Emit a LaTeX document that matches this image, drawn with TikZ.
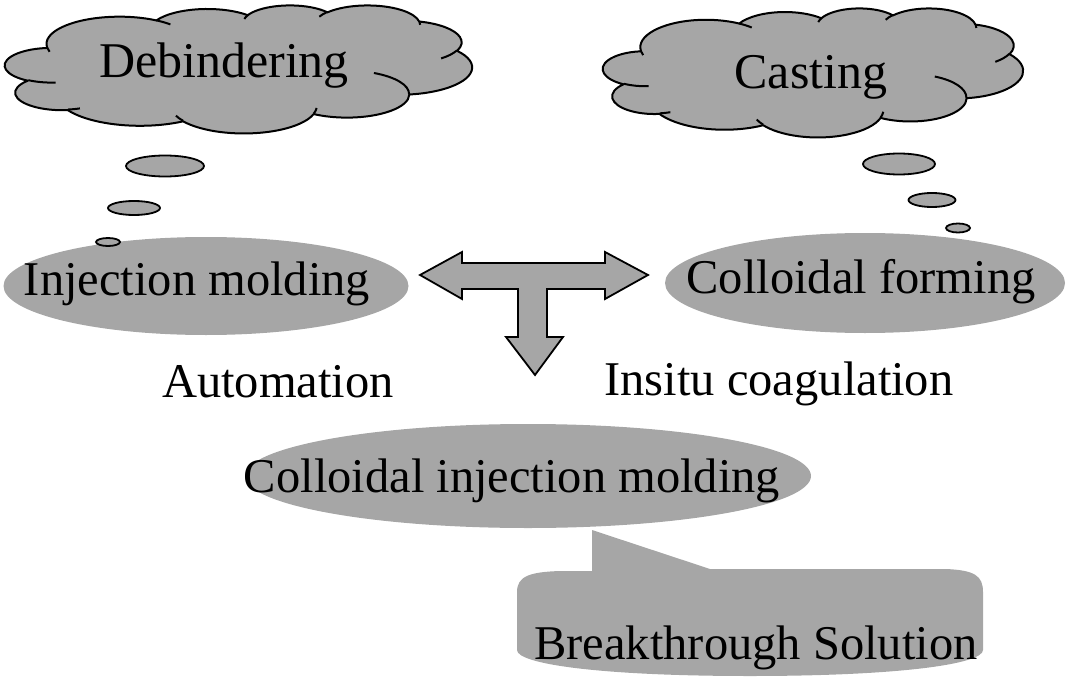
\documentclass[tikz,border=0pt]{standalone}
\usepackage{fontspec}
\setmainfont{Liberation Serif}
\usetikzlibrary{shapes.geometric}
\definecolor{fillgray}{RGB}{166,166,166}
% arc in OOXML style: wR hR stAng swAng (visual angles, degrees)
\newcommand\ooarc[4]{%
  \pgfmathsetmacro\ooA{atan2((#1)*sin(#3),(#2)*cos(#3))}%
  \pgfmathsetmacro\ooB{atan2((#1)*sin((#3)+(#4)),(#2)*cos((#3)+(#4)))}%
  \pgfmathsetmacro\ooD{mod(\ooB-\ooA+720,360)}%
  \pgfmathsetmacro\ooE{\ooA+\ooD}%
  \pgfpatharcaxes{\ooA}{\ooE}{\pgfpointxy{#1}{0}}{\pgfpointxy{0}{#2}}%
}
\newcommand\cloudoutline{%
  \pgfpathmoveto{\pgfpointxy{39.00}{143.70}}%
  \ooarc{67.53}{91.90}{-190.4875}{123.7805}%
  \ooarc{53.33}{72.67}{-144.1024}{89.9452}%
  \ooarc{43.65}{59.45}{-145.8079}{99.7230}%
  \ooarc{48.57}{65.95}{-130.9861}{117.2417}%
  \ooarc{53.33}{72.73}{-78.7089}{109.0269}%
  \ooarc{67.75}{92.20}{-46.2673}{130.2690}%
  \ooarc{57.85}{78.67}{0.6250}{114.0333}%
  \ooarc{67.52}{92.15}{22.4516}{115.1726}%
  \ooarc{77.20}{105.43}{66.2426}{75.7110}%
  \ooarc{43.60}{59.18}{-274.9421}{146.7356}%
  \ooarc{43.45}{59.45}{-246.8285}{152.5189}%
  \pgfpathclose
  \pgfsetfillcolor{fillgray}\pgfsetstrokecolor{black}%
  \pgfsetlinewidth{2pt}\pgfsetroundjoin
  \pgfusepath{fill,stroke}%
  \pgfpathmoveto{\pgfpointxy{46.93}{261.77}}\ooarc{43.45}{59.45}{86.7420}{26.4295}%
  \pgfpathmoveto{\pgfpointxy{69.28}{348.99}}\ooarc{43.60}{59.18}{73.6105}{11.4475}%
  \pgfpathmoveto{\pgfpointxy{164.78}{390.90}}\ooarc{67.52}{92.15}{137.6242}{14.0811}%
  \pgfpathmoveto{\pgfpointxy{288.27}{347.51}}\ooarc{67.52}{92.15}{6.4533}{15.9984}%
  \pgfpathmoveto{\pgfpointxy{341.29}{229.54}}\ooarc{57.85}{78.67}{-70.2924}{70.9174}%
  \pgfpathmoveto{\pgfpointxy{417.98}{153.54}}\ooarc{53.33}{72.73}{30.3180}{27.7515}%
  \pgfpathmoveto{\pgfpointxy{383.24}{54.26}}\ooarc{48.57}{65.95}{-13.7443}{14.8589}%
  \pgfpathmoveto{\pgfpointxy{290.78}{39.52}}\ooarc{48.57}{65.95}{-149.1815}{18.1954}%
  \pgfpathmoveto{\pgfpointxy{221.41}{47.20}}\ooarc{43.65}{59.45}{-163.4943}{17.6864}%
  \pgfpathmoveto{\pgfpointxy{140.00}{51.92}}\ooarc{67.53}{91.90}{-66.7070}{12.3194}%
  \pgfpathmoveto{\pgfpointxy{41.27}{157.89}}\ooarc{67.53}{91.90}{157.6544}{11.8582}%
  \pgfusepath{stroke}%
}
\begin{document}
\begin{tikzpicture}[x=1pt,y=-1pt,
  every node/.style={font=\fontsize{48.5}{54}\selectfont, inner sep=0pt},
  cloudtext/.style={font=\fontsize{50}{56}\selectfont},
  bubble/.style={ellipse, draw=black, line width=1.8pt, fill=fillgray},
  oval/.style={ellipse, fill=fillgray}]
\useasboundingbox (0,0) rectangle (1067,679);

% clouds (PowerPoint cloud outline)
\begin{scope}[shift={(5,5)}, x=467/432*1pt, y=-128/432*1pt]
  \cloudoutline
\end{scope}
\node[cloudtext, anchor=base] (t1) at (224,78) {Debindering};
\begin{scope}[shift={(603,8)}, x=420/432*1pt, y=-129/432*1pt]
  \cloudoutline
\end{scope}
\node[cloudtext, anchor=base] (t2) at (811,89) {Casting};

% ovals
\node[oval, minimum width=405pt, minimum height=98pt] (im) at (206,286) {};
\node[anchor=base] (tim) at (197,295) {Injection molding};
\node[oval, minimum width=400pt, minimum height=100pt] (cf) at (865,283) {};
\node[anchor=base] (tcf) at (861,293) {Colloidal forming};
\node[oval, minimum width=566pt, minimum height=104pt] (cim) at (528,476) {};
\node[anchor=base] (tcim) at (512,492) {Colloidal injection molding};

% thought bubbles left
\node[bubble, minimum width=78pt, minimum height=21pt] (b1) at (165,166) {};
\node[bubble, minimum width=52pt, minimum height=14pt] (b2) at (134,208) {};
\node[bubble, minimum width=24pt, minimum height=8pt] (b3) at (108,242) {};
% thought bubbles right
\node[bubble, minimum width=72pt, minimum height=21pt] (b4) at (899,164) {};
\node[bubble, minimum width=47pt, minimum height=14pt] (b5) at (932,200) {};
\node[bubble, minimum width=24pt, minimum height=9pt] (b6) at (958,228) {};

% free labels
\node[anchor=base] (auto) at (278,397) {Automation};
\node[anchor=base] (insitu) at (779,395) {Insitu coagulation};

% T arrow
\draw[line width=1.8pt, fill=fillgray, line join=miter]
  (420,275) -- (462,252) -- (462,263) -- (605,263) -- (605,252) -- (648,275)
  -- (605,299) -- (605,289) -- (547,289) -- (547,337) -- (563,337) -- (535,375)
  -- (506,337) -- (518,337) -- (518,289) -- (462,289) -- (462,299) -- cycle;

% callout
\coordinate (tip) at (592,530);
\fill[fillgray] (517,592) .. controls (517,576) and (530,572) .. (560,571)
  -- (592,571) -- (tip) -- (710,569) -- (945,569)
  .. controls (975,570) and (983,576) .. (983,592)
  -- (983,650) .. controls (983,664) and (900,676) .. (750,676)
  .. controls (600,676) and (517,664) .. (517,650) -- cycle;
\node[anchor=base] (bs) at (756,659) {Breakthrough Solution};
\end{tikzpicture}
\end{document}
